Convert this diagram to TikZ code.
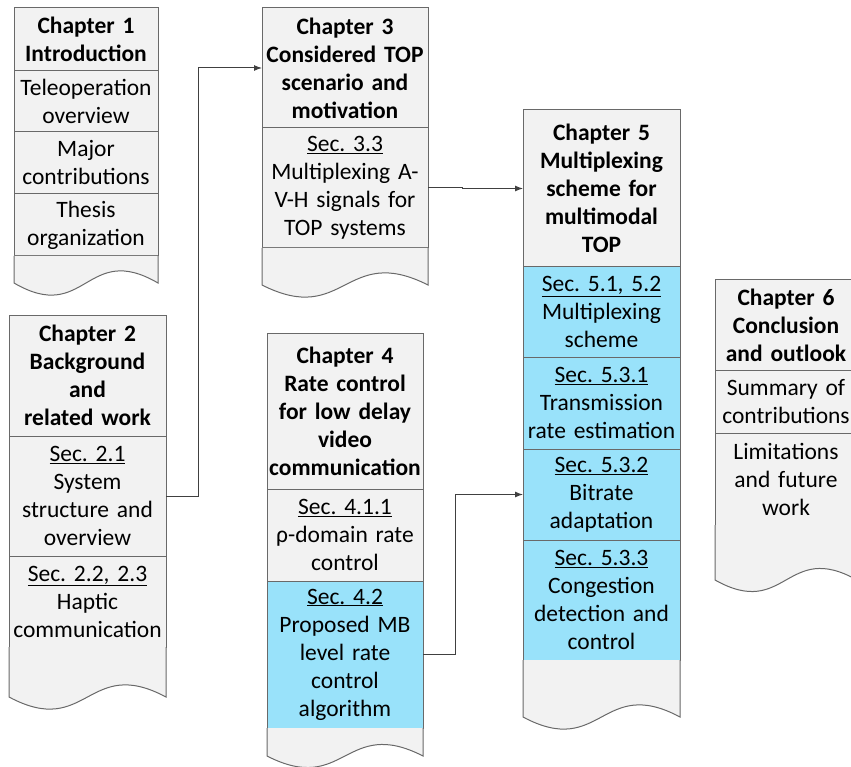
\documentclass[tikz,border=0pt]{standalone}
\usepackage{fontspec}
\setmainfont{Carlito}
\usetikzlibrary{arrows.meta,positioning}
\frenchspacing

\definecolor{boxline}{RGB}{105,105,105}
\definecolor{boxfill}{RGB}{242,242,242}
\definecolor{secblue}{RGB}{153,226,250}

\tikzset{
  cell/.style={draw=boxline, fill=boxfill, line width=1pt, inner xsep=0pt, inner ysep=0pt,
    outer sep=0pt, align=center, font=\fontsize{23.5}{28}\selectfont},
  chap/.style={cell, anchor=north west, font=\fontsize{23.5}{28}\selectfont\bfseries},
  hot/.style={fill=secblue},
  tail/.style={draw=boxline, fill=boxfill, line width=1pt},
  conn/.style={draw=black!75, line width=1pt, -{Latex[length=8pt,width=6pt]}}
}

\begin{document}
\begin{tikzpicture}[x=1pt,y=1pt]
  \useasboundingbox (0,0) rectangle (851,-767);

  %%%%%%%%%%%%%%%% Chapter 1 %%%%%%%%%%%%%%%%
  \node[chap, text width=144pt, minimum height=63pt] (ch1) at (14,-8) {Chapter 1\\Introduction};
  \node[cell, text width=144pt, minimum height=61pt, below=0pt of ch1] (ch1a) {Teleoperation\\overview};
  \node[cell, text width=144pt, minimum height=62pt, below=0pt of ch1a] (ch1b) {Major\\contributions};
  \node[cell, text width=144pt, minimum height=62pt, below=0pt of ch1b] (ch1c) {Thesis\\organization};
  \filldraw[tail] (14,-256) -- (14,-283) .. controls (86,-325) and (86,-241) .. (158,-283) -- (158,-256);

  %%%%%%%%%%%%%%%% Chapter 2 %%%%%%%%%%%%%%%%
  \node[chap, text width=157pt, minimum height=121pt] (ch2) at (9,-315) {Chapter 2\\Background\\and\\related work};
  \node[cell, text width=157pt, minimum height=120pt, below=0pt of ch2] (ch2a) {\underline{Sec. 2.1}\\System\\structure and\\overview};
  \node[cell, text width=157pt, minimum height=91pt, below=0pt of ch2a] (ch2b) {\underline{Sec. 2.2, 2.3}\\Haptic\\communication};
  \filldraw[tail] (9,-647) -- (9,-697) .. controls (87.5,-739) and (87.5,-655) .. (166,-697) -- (166,-647);

  %%%%%%%%%%%%%%%% Chapter 3 %%%%%%%%%%%%%%%%
  \node[chap, text width=166pt, minimum height=120pt] (ch3) at (262,-8) {Chapter 3\\Considered TOP\\scenario and\\motivation};
  \node[cell, text width=166pt, minimum height=120pt, below=0pt of ch3] (ch3a) {\underline{Sec. 3.3}\\Multiplexing A-\\V-H signals for\\TOP systems};
  \filldraw[tail] (262,-248) -- (262,-285) .. controls (345,-327) and (345,-243) .. (428,-285) -- (428,-248);

  %%%%%%%%%%%%%%%% Chapter 4 %%%%%%%%%%%%%%%%
  \node[chap, text width=156pt, minimum height=156pt] (ch4) at (267,-333) {Chapter 4\\Rate control\\for low delay\\video\\communication};
  \node[cell, text width=156pt, minimum height=92pt, below=0pt of ch4] (ch4a) {\underline{Sec. 4.1.1}\\ρ-domain rate\\control};
  \node[cell, hot, text width=156pt, minimum height=147pt, below=0pt of ch4a] (ch4b) {\underline{Sec. 4.2}\\Proposed MB\\level rate\\control\\algorithm};
  \filldraw[tail] (267,-728) -- (267,-756) .. controls (345,-796) and (345,-716) .. (423,-756) -- (423,-728);

  %%%%%%%%%%%%%%%% Chapter 5 %%%%%%%%%%%%%%%%
  \node[chap, text width=157pt, minimum height=157pt] (ch5) at (523,-110) {Chapter 5\\Multiplexing\\scheme for\\multimodal\\TOP};
  \node[cell, hot, text width=157pt, minimum height=90pt, below=0pt of ch5] (ch5a) {\underline{Sec. 5.1, 5.2}\\Multiplexing\\scheme};
  \node[cell, hot, text width=157pt, minimum height=92pt, below=0pt of ch5a] (ch5b) {\underline{Sec. 5.3.1}\\Transmission\\rate estimation};
  \node[cell, hot, text width=157pt, minimum height=91pt, below=0pt of ch5b] (ch5c) {\underline{Sec. 5.3.2}\\Bitrate\\adaptation};
  \node[cell, hot, text width=157pt, minimum height=120pt, below=0pt of ch5c] (ch5d) {\underline{Sec. 5.3.3}\\Congestion\\detection and\\control};
  \filldraw[tail] (523,-660) -- (523,-717) .. controls (601.5,-759) and (601.5,-675) .. (680,-717) -- (680,-660);

  %%%%%%%%%%%%%%%% Chapter 6 %%%%%%%%%%%%%%%%
  \node[chap, text width=142pt, minimum height=90pt] (ch6) at (715,-280) {Chapter 6\\Conclusion\\and outlook};
  \node[cell, text width=142pt, minimum height=63pt, below=0pt of ch6] (ch6a) {Summary of\\contributions};
  \node[cell, text width=142pt, minimum height=92pt, below=0pt of ch6a] (ch6b) {Limitations\\and future\\work};
  \filldraw[tail] (715,-525) -- (715,-580) .. controls (786,-620) and (786,-540) .. (857,-580) -- (857,-525);

  %%%%%%%%%%%%%%%% links %%%%%%%%%%%%%%%%
  \draw[conn] (ch2a.east) -- ++(32,0) |- (ch3.west);
  \draw[conn] (ch3a.east) -- ++(34,0) |- (ch5.west);
  \draw[conn] (ch4b.east) -- ++(32,0) |- (ch5c.west);
\end{tikzpicture}
\end{document}
